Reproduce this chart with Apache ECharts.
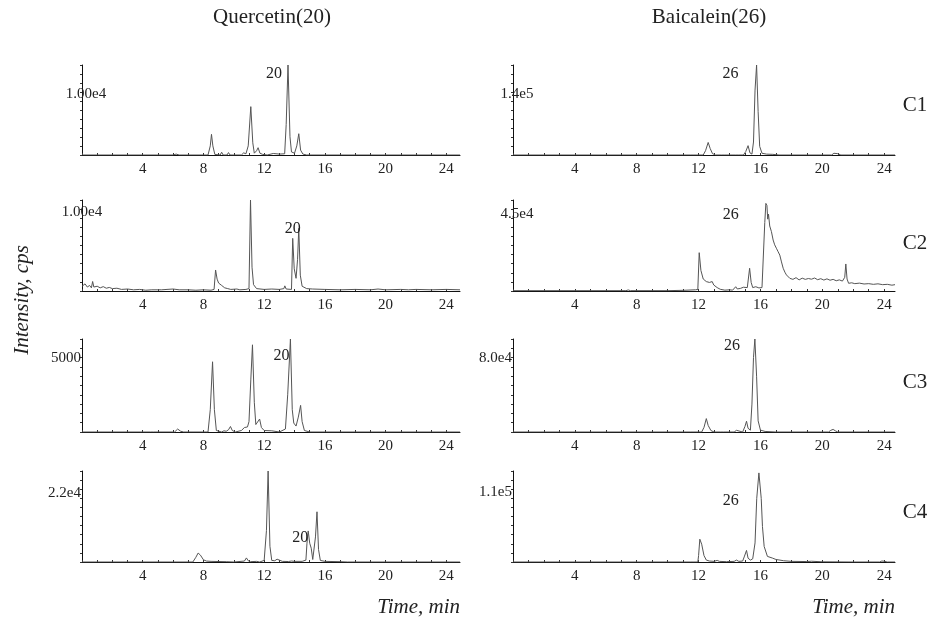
<!DOCTYPE html>
<html>
<head>
<meta charset="utf-8">
<script src="https://cdn.jsdelivr.net/npm/echarts@6/dist/echarts.min.js"></script>
<style>html,body{margin:0;background:#fff}#drew{width:944px;height:621px}</style>
</head>
<body>
<div id="drew"></div>
<script>
// titles / rows
var compounds = ['Quercetin(20)', 'Baicalein(26)'];
var samples = ['C1', 'C2', 'C3', 'C4'];
var peakNames = ['20', '26'];

// y label (one value per panel) and axis top, cps
var yLabelValues = [[1.00e4, 1.00e4, 5000, 2.2e4], [1.4e5, 4.5e4, 8.0e4, 1.1e5]];
var yLabelText = [['1.00e4', '1.00e4', '5000', '2.2e4'], ['1.4e5', '4.5e4', '8.0e4', '1.1e5']];
var yMax = [[14800, 11480, 6250, 29000], [208000, 53200, 100000, 143000]];
var xMax = [24.9, 24.7];

// retention time of the annotated peak in each panel
var peakTimes = [[13.57, 13.88, 13.73, 14.9], [15.75, 16.35, 15.64, 15.96]];

// chromatograms [time(min), intensity(cps)]
var quercetinC1 = [[0,0],[6.0,0],[6.2,150],[6.4,0],[8.3,0],[8.45,1500],[8.53,3400],[8.62,1500],[8.75,100],[9.1,0],[9.2,450],[9.3,0],[9.55,0],[9.65,400],[9.75,0],[10.5,0],[10.65,350],[10.8,200],[10.95,1500],[11.12,7950],[11.25,2000],[11.35,300],[11.5,700],[11.6,1200],[11.72,300],[11.9,100],[12.2,0],[12.6,250],[12.7,0],[13.0,150],[13.1,0],[13.35,200],[13.45,5000],[13.57,14800],[13.7,3000],[13.8,500],[13.9,700],[14.0,300],[14.15,1500],[14.28,3500],[14.4,800],[14.55,150],[14.8,0],[24.9,0]];
var quercetinC2 = [[0,600],[0.2,900],[0.35,500],[0.5,700],[0.62,400],[0.7,1200],[0.78,500],[1.0,600],[1.2,400],[1.4,550],[1.6,350],[1.8,450],[2.0,300],[2.3,350],[2.6,200],[3.0,250],[3.4,150],[3.8,200],[4.2,100],[4.6,150],[5.0,150],[5.1,400],[5.25,150],[5.6,200],[6.0,250],[6.4,150],[7.0,150],[7.5,100],[8.0,150],[8.5,100],[8.7,200],[8.8,2650],[8.9,1500],[9.0,1000],[9.2,700],[9.4,400],[9.6,300],[9.8,200],[10.2,250],[10.4,150],[10.8,200],[11.0,300],[11.1,11480],[11.2,3000],[11.3,800],[11.5,300],[12.0,200],[12.5,250],[13.0,200],[13.3,300],[13.36,650],[13.45,250],[13.8,200],[13.88,6640],[13.98,2800],[14.1,1600],[14.2,4000],[14.28,7900],[14.38,2000],[14.5,600],[14.8,300],[15.2,250],[16,200],[17,150],[18,200],[19,150],[19.5,250],[20,150],[21,200],[21.5,150],[22,200],[23,150],[24,200],[24.9,150]];
var quercetinC3 = [[0,0],[4.5,0],[4.6,40],[4.7,0],[6.1,0],[6.3,200],[6.5,50],[6.7,0],[8.3,0],[8.45,1500],[8.6,4720],[8.72,1500],[8.85,100],[9.2,0],[9.35,80],[9.5,50],[9.65,150],[9.78,370],[9.9,100],[10.1,0],[10.5,100],[10.7,300],[10.9,340],[11.0,700],[11.12,3500],[11.23,5860],[11.35,2000],[11.45,500],[11.55,400],[11.7,870],[11.82,300],[12.0,100],[12.5,80],[13.0,0],[13.4,200],[13.55,2500],[13.73,6250],[13.85,1500],[13.95,600],[14.1,400],[14.25,1000],[14.4,1790],[14.5,700],[14.65,100],[15,0],[24.9,0]];
var quercetinC4 = [[0,0],[3.5,0],[3.6,150],[3.7,0],[7.3,0],[7.5,1500],[7.65,2850],[7.8,2200],[8.0,700],[8.2,300],[8.5,200],[9,150],[9.5,100],[10,0],[10.7,300],[10.83,1300],[10.95,400],[11.1,100],[11.5,200],[11.7,0],[12.0,500],[12.15,10000],[12.26,29000],[12.38,5000],[12.5,500],[12.7,400],[12.85,900],[12.95,300],[13.2,200],[13.6,150],[13.8,300],[14,200],[14.5,200],[14.75,600],[14.82,6000],[14.9,9900],[15.0,6000],[15.1,4400],[15.2,800],[15.3,500],[15.38,8000],[15.48,16000],[15.58,4000],[15.7,500],[16,200],[17,100],[17.5,0],[24.9,0]];
var baicaleinC1 = [[0,0],[11.5,0],[11.6,1500],[11.7,0],[12.3,0],[12.45,10000],[12.62,29000],[12.75,15000],[12.9,3000],[13.1,0],[13.5,0],[13.6,1500],[13.7,0],[14.4,0],[14.5,1500],[14.6,0],[14.9,0],[15.05,8000],[15.2,21600],[15.32,5000],[15.45,2000],[15.55,30000],[15.65,150000],[15.75,208000],[15.85,100000],[15.95,20000],[16.1,4000],[16.4,2000],[16.8,1500],[17.2,0],[20.6,0],[20.75,4000],[20.87,6200],[21.0,3000],[21.2,0],[24.7,0]];
var baicaleinC2 = [[0,200],[7.3,200],[7.45,600],[7.6,200],[10,200],[11,400],[11.8,700],[11.95,900],[12.04,22400],[12.15,12000],[12.3,7000],[12.5,5500],[12.7,5000],[12.8,4000],[12.88,5500],[12.98,3500],[13.2,2000],[13.4,1000],[13.7,500],[14.0,700],[14.2,500],[14.4,2500],[14.5,1200],[14.7,1500],[14.9,2200],[15.0,1800],[15.15,2000],[15.3,13300],[15.4,5000],[15.5,2000],[15.7,2500],[15.9,1800],[16.1,2000],[16.2,3000],[16.28,40000],[16.35,51200],[16.42,50000],[16.47,42000],[16.52,45000],[16.6,38000],[16.71,34700],[16.82,29800],[16.92,27000],[17.03,25000],[17.14,23000],[17.25,21000],[17.36,17000],[17.47,13300],[17.58,11000],[17.68,9400],[17.9,7400],[18.1,6800],[18.3,7800],[18.5,6500],[18.7,7500],[18.9,6800],[19.1,7300],[19.3,6900],[19.5,7600],[19.7,6600],[19.9,7200],[20.1,6400],[20.3,7100],[20.5,6300],[20.7,6800],[20.9,6000],[21.1,6500],[21.3,5800],[21.45,8000],[21.52,15800],[21.6,7000],[21.7,4500],[21.9,4800],[22.1,4300],[22.4,4600],[22.7,4100],[23.0,4300],[23.3,3900],[23.6,4200],[23.9,3700],[24.2,3900],[24.5,3400],[24.7,3700]];
var baicaleinC3 = [[0,0],[11.5,0],[11.6,800],[11.7,0],[12.2,0],[12.35,5000],[12.5,14400],[12.62,7000],[12.8,1500],[13.0,0],[13.4,0],[13.5,1000],[13.6,0],[14.3,0],[14.45,1800],[14.55,0],[14.85,0],[15.0,6000],[15.1,11600],[15.2,4000],[15.35,2000],[15.45,30000],[15.55,80000],[15.64,100000],[15.75,60000],[15.85,12000],[16.0,2000],[16.3,600],[17,0],[20.4,0],[20.55,1800],[20.7,2800],[20.85,1200],[21.0,0],[24.7,0]];
var baicaleinC4 = [[0,0],[11.0,0],[11.05,1200],[11.1,0],[11.5,0],[11.6,1500],[11.7,0],[11.95,0],[12.0,10000],[12.08,35800],[12.2,28000],[12.35,10000],[12.5,3000],[12.7,1500],[13.0,1000],[13.2,2500],[13.35,1000],[13.8,500],[14.3,1000],[14.45,3000],[14.6,1000],[14.85,1500],[14.95,8000],[15.1,18200],[15.2,6000],[15.35,3000],[15.5,5000],[15.65,30000],[15.76,100000],[15.9,140000],[15.96,143000],[16.05,100000],[16.13,55700],[16.24,24400],[16.45,8800],[16.77,6200],[17.0,4000],[17.5,2000],[18,1000],[19,700],[19.3,1200],[19.4,500],[20,300],[22,0],[23.7,0],[23.85,1500],[24.0,1200],[24.2,0],[24.7,0]];

var traces = [[quercetinC1, quercetinC2, quercetinC3, quercetinC4], [baicaleinC1, baicaleinC2, baicaleinC3, baicaleinC4]];

// layout
var colLeft = [82, 513], colWidth = [378, 382];
var rowTop = [65, 200, 339, 471], rowHeight = [90, 91, 93, 91];
var yAlign = [['center', 'center', 'right', 'right'], ['center', 'center', 'right', 'right']];
var yMargin = [[-4, 0, 1, 1], [-4, -4, 1, 1]];
var peakOffset = [[[-14, 9], [0, -10], [-9, 17], [-8, 7]], [[-26, 9], [-35, 11], [-23, 7], [-29, 30]]];

var serif = 'Liberation Serif';
var grid = [], xAxis = [], yAxis = [], series = [];

for (var c = 0; c < 2; c++) {
    for (var r = 0; r < 4; r++) {
        var i = grid.length;
        var data = traces[c][r];
        var pt = data.filter(function (d) { return d[0] === peakTimes[c][r]; })[0];
        grid.push({left: colLeft[c], width: colWidth[c], top: rowTop[r], height: rowHeight[r]});
        xAxis.push({
            type: 'value', gridIndex: i, min: 0, max: xMax[c], interval: 1,
            axisLine: {lineStyle: {color: '#111', width: 1}},
            axisTick: {inside: true, length: 2, lineStyle: {color: '#333'}},
            splitLine: {show: false},
            axisLabel: {
                color: '#222', fontFamily: serif, fontSize: 15, margin: 7,
                showMaxLabel: false,
                formatter: function (v) { return (v > 0 && v % 4 === 0) ? String(v) : ''; }
            }
        });
        yAxis.push({
            type: 'value', gridIndex: i, min: 0, max: yMax[c][r], interval: yMax[c][r] / 10,
            axisLine: {show: true, lineStyle: {color: '#111', width: 1}},
            axisTick: {show: true, length: 2, lineStyle: {color: '#333'}},
            splitLine: {show: false},
            axisLabel: {
                customValues: [yLabelValues[c][r]],
                formatter: (function (t) { return function () { return t; }; })(yLabelText[c][r]),
                color: '#222', fontFamily: serif, fontSize: 15,
                align: yAlign[c][r], margin: yMargin[c][r]
            }
        });
        series.push({
            type: 'line', xAxisIndex: i, yAxisIndex: i, data: data,
            showSymbol: false, silent: true,
            lineStyle: {color: '#555', width: 1},
            markPoint: {
                symbol: 'circle', symbolSize: 0, silent: true,
                label: {show: true, formatter: peakNames[c], offset: peakOffset[c][r],
                        color: '#222', fontFamily: serif, fontSize: 16},
                data: [{coord: pt}]
            }
        });
    }
}

var graphic = [];
var titleX = [272, 709];
for (var c = 0; c < 2; c++) {
    graphic.push({type: 'text', x: titleX[c], y: 17, style: {text: compounds[c], fill: '#222',
        font: '21px "Liberation Serif"', textAlign: 'center', textVerticalAlign: 'middle'}});
    graphic.push({type: 'text', x: colLeft[c] + colWidth[c], y: 607, style: {text: 'Time, min', fill: '#222',
        font: 'italic 21px "Liberation Serif"', textAlign: 'right', textVerticalAlign: 'middle'}});
}
var sampleY = [105, 243, 382, 512];
for (var r = 0; r < 4; r++) {
    graphic.push({type: 'text', x: 915, y: sampleY[r], style: {text: samples[r], fill: '#222',
        font: '21px "Liberation Serif"', textAlign: 'center', textVerticalAlign: 'middle'}});
}
graphic.push({type: 'text', x: 22, y: 300, rotation: Math.PI / 2, style: {text: 'Intensity, cps', fill: '#222',
    font: 'italic 21px "Liberation Serif"', textAlign: 'center', textVerticalAlign: 'middle'}});

var myChart = echarts.init(document.getElementById('drew'));
myChart.setOption({
    animation: false,
    backgroundColor: '#fff',
    grid: grid, xAxis: xAxis, yAxis: yAxis, series: series,
    graphic: graphic
});
</script>
</body>
</html>
